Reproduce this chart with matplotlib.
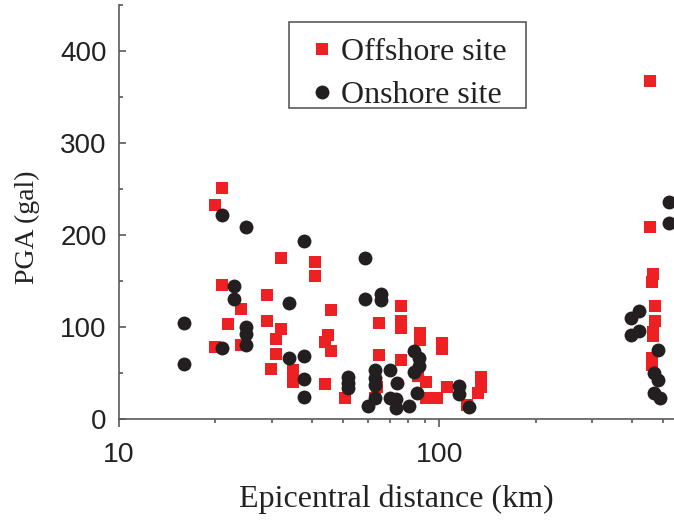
import matplotlib
matplotlib.use("Agg")
import matplotlib.pyplot as plt
from matplotlib.patches import Rectangle
from matplotlib.ticker import LogLocator, FixedLocator, FixedFormatter, NullFormatter, MultipleLocator

# Offshore site (red squares): epicentral distance (km), PGA (gal)
off_dist = [19.9, 21.0, 21.0, 21.9, 19.9, 24.0, 24.0, 28.9, 28.9, 32.0, 32.0, 30.9, 30.9, 29.8,
            34.9, 34.9, 40.8, 40.8, 46.0, 44.9, 43.9, 46.0, 43.9, 50.8, 65.0, 65.0, 63.9, 63.0,
            76.1, 76.1, 76.1, 76.1, 87.0, 87.0, 85.7, 91.1, 91.1, 98.2, 102.2, 102.2, 105.5,
            121.6, 131.8, 135.4, 135.4, 455, 455, 464, 462, 472, 472, 464, 466, 462, 462]
off_pga = [232, 251, 146, 103, 78, 120, 81, 135, 107, 175, 98, 87, 71, 55,
           53, 41, 171, 155, 119, 91, 84, 74, 38, 23, 104, 70, 35, 23,
           123, 107, 99, 64, 94, 86, 47, 41, 23, 23, 83, 76, 35,
           15, 28, 46, 35, 367, 209, 158, 149, 123, 107, 95, 90, 66, 59]

# Onshore site (black circles)
on_dist = [15.9, 15.9, 20.9, 20.9, 25.0, 22.9, 22.9, 25.0, 25.0, 25.0, 37.9, 34.0, 34.0, 37.9,
           37.9, 37.9, 51.9, 51.9, 51.9, 58.8, 58.8, 65.9, 65.9, 63.0, 63.0, 63.0, 63.0, 59.8,
           70.0, 70.0, 73.8, 73.1, 73.1, 80.7, 83.2, 86.7, 86.7, 83.2, 84.9, 115.6, 115.6, 123.8,
           522, 522, 421, 396, 421, 396, 483, 469, 483, 469, 487]
on_pga = [104, 60, 222, 77, 209, 145, 130, 100, 93, 81, 194, 126, 66, 69,
          44, 24, 46, 39, 34, 175, 131, 136, 129, 53, 45, 37, 23, 14,
          53, 23, 39, 22, 12, 14, 74, 67, 58, 51, 29, 36, 27, 13,
          236, 213, 117, 110, 96, 91, 75, 50, 43, 29, 23]

x_ticks = [10, 100]
x_ticklabels = ["10", "100"]
y_ticks = [0, 100, 200, 300, 400]

RED = "#ED2024"
BLACK = "#231F20"
AXC = "#5a5a5a"

W, H = 674, 520
fig = plt.figure(figsize=(W / 100, H / 100), dpi=100)
ax = fig.add_axes([119 / W, 1 - 419.3 / H, (W - 119) / W, (419.3 - 4.6) / H])

ax.plot(off_dist, off_pga, linestyle="none", marker="s", markersize=8.6,
        color=RED, markeredgewidth=0, label="Offshore site", zorder=3)
ax.plot(on_dist, on_pga, linestyle="none", marker="o", markersize=10,
        color=BLACK, markeredgewidth=0, label="Onshore site", zorder=4)

ax.set_xscale("log")
ax.set_xlim(10, 10 ** (2 + (674 - 439.3) / 320.3))
ax.set_ylim(0, 450)

ax.xaxis.set_major_locator(FixedLocator(x_ticks))
ax.xaxis.set_major_formatter(FixedFormatter(x_ticklabels))
ax.xaxis.set_minor_locator(LogLocator(base=10, subs=range(2, 10)))
ax.xaxis.set_minor_formatter(NullFormatter())
ax.yaxis.set_major_locator(FixedLocator(y_ticks))
ax.yaxis.set_minor_locator(MultipleLocator(50))

for s in ["top", "right"]:
    ax.spines[s].set_visible(False)
for s in ["left", "bottom"]:
    ax.spines[s].set_color(AXC)
    ax.spines[s].set_linewidth(1.2)

ax.tick_params(axis="x", which="major", direction="out", length=6, width=1.2,
               color=AXC, labelsize=20.5, pad=10, labelcolor="#222222")
ax.tick_params(axis="x", which="minor", direction="out", length=3, width=1.2, color=AXC)
ax.tick_params(axis="y", which="major", direction="in", length=5, width=1.2,
               color=AXC, labelsize=20, pad=9, labelcolor="#222222")
ax.tick_params(axis="y", which="minor", direction="in", length=3, width=1.2, color=AXC)
for lab in ax.get_xticklabels() + ax.get_yticklabels():
    lab.set_fontfamily("Liberation Sans")

serif = "Liberation Serif"
ax.set_xlabel("Epicentral distance (km)", fontsize=23, fontfamily=serif,
              color="#222222", labelpad=12)
ax.set_ylabel("PGA (gal)", fontsize=20, fontfamily=serif, color="#222222")
ax.yaxis.set_label_coords(-0.142, 0.462)

leg = ax.legend(loc="upper left",
                bbox_to_anchor=(300 / W, 1 - 38 / H),
                bbox_transform=fig.transFigure, borderaxespad=0,
                prop={"family": serif, "size": 23}, frameon=False,
                handlelength=1.375, handletextpad=-0.1, borderpad=0, labelspacing=0.42,
                markerscale=1.0)
for t in leg.get_texts():
    t.set_color("#222222")

fig.add_artist(Rectangle((289 / W, 1 - 108 / H), 237 / W, 86 / H,
                         transform=fig.transFigure, fill=False,
                         edgecolor=AXC, linewidth=1.2))

fig.savefig("out.png", dpi=100)
